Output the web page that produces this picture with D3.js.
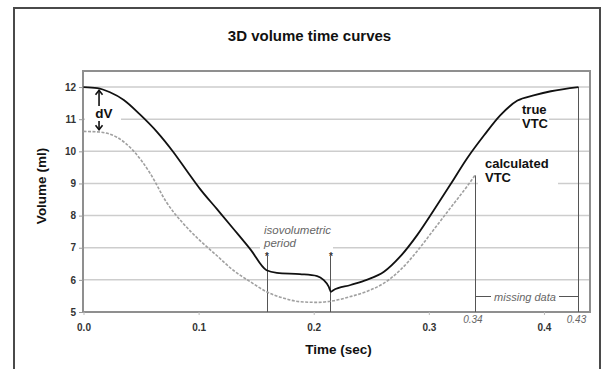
<!DOCTYPE html>
<html>
<head>
<meta charset="utf-8">
<script src="https://cdn.jsdelivr.net/npm/d3@7"></script>
<style>
  html, body { margin: 0; padding: 0; background: #fff; }
  svg { display: block; font-family: "Liberation Sans", Arial, sans-serif; }
</style>
</head>
<body>
<svg id="chart" width="602" height="369"></svg>
<script>
// True volume-time curve (ml over seconds)
const timeTrue = [0, 0.012, 0.023, 0.035, 0.049, 0.064, 0.078, 0.090, 0.101, 0.116, 0.130, 0.145, 0.159,
                  0.168, 0.188, 0.203, 0.2085, 0.213, 0.215, 0.217, 0.232, 0.246, 0.261, 0.275, 0.290,
                  0.304, 0.319, 0.333, 0.348, 0.362, 0.377, 0.391, 0.406, 0.430];
const volTrue  = [12.0, 11.97, 11.84, 11.6, 11.15, 10.6, 9.98, 9.38, 8.84, 8.2, 7.6, 6.95, 6.3,
                  6.22, 6.18, 6.12, 6.0, 5.79, 5.63, 5.68, 5.84, 6.0, 6.25, 6.72, 7.4,
                  8.15, 8.98, 9.77, 10.5, 11.12, 11.58, 11.74, 11.87, 12.0];

// Calculated volume-time curve (stops at 0.34 s)
const timeCalc = [0, 0.014, 0.029, 0.043, 0.058, 0.072, 0.087, 0.101, 0.116, 0.130, 0.145, 0.159, 0.174,
                  0.188, 0.203, 0.217, 0.232, 0.246, 0.261, 0.275, 0.290, 0.304, 0.319, 0.333, 0.340];
const volCalc  = [10.62, 10.6, 10.44, 10.03, 9.31, 8.42, 7.74, 7.23, 6.75, 6.3, 5.94, 5.63, 5.43,
                  5.32, 5.30, 5.35, 5.48, 5.64, 5.9, 6.3, 6.9, 7.55, 8.25, 8.9, 9.25];

// Axis ticks
const xTicks = [0, 0.1, 0.2, 0.3, 0.4];
const xTickLabels = ["0.0", "0.1", "0.2", "0.3", "0.4"];
const yTicks = [5, 6, 7, 8, 9, 10, 11, 12];

// Annotated time points
const isoTimes = [0.159, 0.2145];   // isovolumetric period bounds
const isoMarkVol = 6.75;
const missingStart = 0.34, missingEnd = 0.43;
const dvTime = 0.0135, dvTop = 11.93, dvBottom = 10.64;

const svg = d3.select("#chart");
const plot = { left: 83, right: 590, top: 71, bottom: 312 };

const x = d3.scaleLinear().domain([0, 0.44]).range([plot.left + 0.5, plot.right]);
const y = d3.scaleLinear().domain([5, 12.5]).range([plot.bottom, plot.top]);

// Outer frame
svg.append("rect")
  .attr("x", 14).attr("y", 8).attr("width", 586).attr("height", 420)
  .attr("fill", "none").attr("stroke", "#4a4a4a").attr("stroke-width", 2);

// Title
svg.append("text")
  .attr("x", 309.5).attr("y", 41).attr("text-anchor", "middle")
  .attr("font-size", 15).attr("font-weight", "bold").attr("fill", "#111")
  .text("3D volume time curves");

// Horizontal gridlines
svg.append("g")
  .selectAll("line")
  .data(yTicks.filter(v => v > 5))
  .join("line")
  .attr("x1", plot.left).attr("x2", plot.right)
  .attr("y1", d => y(d)).attr("y2", d => y(d))
  .attr("stroke", "#cdcdcd").attr("stroke-width", 1.5);

// Label backgrounds interrupting the gridlines
const boxes = [
  { x0: 85, x1: 121, y0: 93, y1: 134 },
  { x0: 260, x1: 333, y0: 222, y1: 253 },
  { x0: 520, x1: 549, y0: 100, y1: 132 },
  { x0: 478, x1: 558, y0: 155, y1: 189 }
];
svg.append("g").selectAll("rect").data(boxes).join("rect")
  .attr("x", d => d.x0).attr("y", d => d.y0)
  .attr("width", d => d.x1 - d.x0).attr("height", d => d.y1 - d.y0)
  .attr("fill", "#fff");

// Plot border
svg.append("rect")
  .attr("x", plot.left).attr("y", plot.top)
  .attr("width", plot.right - plot.left).attr("height", plot.bottom - plot.top)
  .attr("fill", "none").attr("stroke", "#8f8f8f").attr("stroke-width", 2);

// Y axis
const yAxis = svg.append("g").attr("transform", `translate(${plot.left},0)`)
  .call(d3.axisLeft(y).tickValues(yTicks).tickFormat(d3.format("d")).tickSize(4).tickPadding(3));
yAxis.select(".domain").remove();
yAxis.selectAll(".tick line").attr("stroke", "#999");
yAxis.selectAll(".tick text")
  .attr("font-size", 10).attr("font-weight", "bold").attr("fill", "#333")
  .attr("font-family", "Liberation Sans, Arial, sans-serif");

// X axis
const xAxis = svg.append("g").attr("transform", `translate(0,${plot.bottom})`)
  .call(d3.axisBottom(x).tickValues(xTicks).tickFormat((d, i) => xTickLabels[i]).tickSize(3).tickPadding(9));
xAxis.select(".domain").remove();
xAxis.selectAll(".tick line").attr("stroke", "#bbb");
xAxis.selectAll(".tick text")
  .attr("font-size", 10).attr("font-weight", "bold").attr("fill", "#333")
  .attr("font-family", "Liberation Sans, Arial, sans-serif");

// Axis titles
svg.append("text")
  .attr("x", (plot.left + plot.right) / 2 + 2).attr("y", 354).attr("text-anchor", "middle")
  .attr("font-size", 13.5).attr("font-weight", "bold").attr("fill", "#111")
  .text("Time (sec)");
svg.append("text")
  .attr("transform", "translate(45.5,186) rotate(-90)").attr("text-anchor", "middle")
  .attr("font-size", 13.5).attr("font-weight", "bold").attr("fill", "#111")
  .text("Volume (ml)");

// Vertical marker lines
const markers = [
  { t: isoTimes[0], v: isoMarkVol },
  { t: isoTimes[1], v: isoMarkVol },
  { t: missingStart, v: volCalc[volCalc.length - 1] },
  { t: missingEnd, v: volTrue[volTrue.length - 1] }
];
svg.append("g").selectAll("line").data(markers).join("line")
  .attr("x1", d => Math.round(x(d.t)) + 0.5).attr("x2", d => Math.round(x(d.t)) + 0.5)
  .attr("y1", d => y(d.v)).attr("y2", y(5))
  .attr("stroke", "#555").attr("stroke-width", 1);

// Curves
const line = d3.line().x(d => x(d[0])).y(d => y(d[1])).curve(d3.curveMonotoneX);
svg.append("path")
  .datum(d3.zip(timeCalc, volCalc))
  .attr("d", line).attr("fill", "none")
  .attr("stroke", "#a0a0a0").attr("stroke-width", 1.6).attr("stroke-dasharray", "3,1.5");
svg.append("path")
  .datum(d3.zip(timeTrue, volTrue))
  .attr("d", line).attr("fill", "none")
  .attr("stroke", "#111").attr("stroke-width", 1.8);

// Asterisks on the isovolumetric markers
svg.append("g").selectAll("text").data(isoTimes).join("text")
  .attr("x", d => x(d) + 0.5).attr("y", y(isoMarkVol) + 4).attr("text-anchor", "middle")
  .attr("font-size", 10).attr("font-weight", "bold").attr("fill", "#333")
  .text("*");

// Isovolumetric label
const iso = svg.append("text").attr("font-size", 11.5).attr("font-style", "italic").attr("fill", "#666");
iso.append("tspan").attr("x", 264).attr("y", 234).text("isovolumetric");
iso.append("tspan").attr("x", 264).attr("y", 247).text("period");

// dV annotation with arrows
const ax = x(dvTime);
const arrow = (y0, y1) => {
  svg.append("line").attr("x1", ax).attr("x2", ax).attr("y1", y0).attr("y2", y1)
    .attr("stroke", "#111").attr("stroke-width", 1.6);
  const dir = y1 < y0 ? 1 : -1;
  svg.append("path")
    .attr("d", `M${ax - 3.5},${y1 + dir * 4.5}L${ax},${y1}L${ax + 3.5},${y1 + dir * 4.5}`)
    .attr("fill", "none").attr("stroke", "#111").attr("stroke-width", 1.6);
};
arrow(106, y(dvTop) + 1);
arrow(121, y(dvBottom) - 1);
svg.append("text")
  .attr("x", 104).attr("y", 118).attr("text-anchor", "middle")
  .attr("font-size", 13.5).attr("font-weight", "bold").attr("fill", "#111")
  .text("dV");

// Curve labels
const trueLbl = svg.append("text").attr("font-size", 13).attr("font-weight", "bold").attr("fill", "#111");
trueLbl.append("tspan").attr("x", 522).attr("y", 114).text("true");
trueLbl.append("tspan").attr("x", 522).attr("y", 128).text("VTC");
const calcLbl = svg.append("text").attr("font-size", 13).attr("font-weight", "bold").attr("fill", "#111");
calcLbl.append("tspan").attr("x", 485).attr("y", 168).text("calculated");
calcLbl.append("tspan").attr("x", 485).attr("y", 182).text("VTC");

// Missing data span
const my = 296.5;
svg.append("line").attr("x1", x(missingStart) + 1).attr("x2", 491).attr("y1", my).attr("y2", my)
  .attr("stroke", "#555").attr("stroke-width", 1);
svg.append("line").attr("x1", 559).attr("x2", x(missingEnd)).attr("y1", my).attr("y2", my)
  .attr("stroke", "#555").attr("stroke-width", 1);
svg.append("text")
  .attr("x", 525).attr("y", 300.5).attr("text-anchor", "middle")
  .attr("font-size", 11).attr("font-style", "italic").attr("fill", "#666")
  .text("missing data");

// Italic time labels for the missing-data bounds
svg.append("g").selectAll("text").data([missingStart, missingEnd]).join("text")
  .attr("x", d => x(d) - 2).attr("y", 323).attr("text-anchor", "middle")
  .attr("font-size", 10).attr("font-style", "italic").attr("fill", "#666")
  .text(d => d3.format(".2f")(d));
</script>
</body>
</html>
